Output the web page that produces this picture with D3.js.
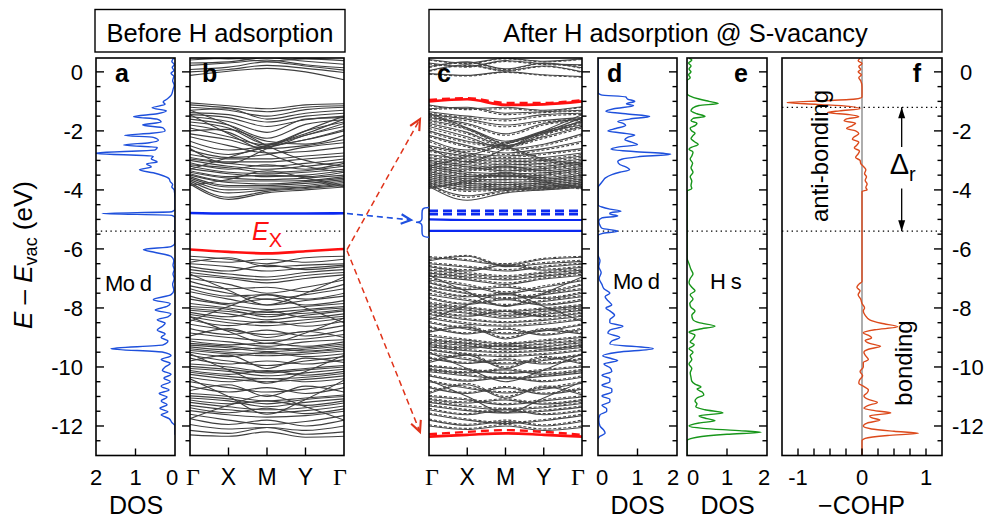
<!DOCTYPE html>
<html><head><meta charset="utf-8">
<script src="https://cdn.jsdelivr.net/npm/d3@7"></script>
<style>
body{margin:0;background:#fff}
svg{display:block}
text{font-family:"Liberation Sans",Arial,Helvetica,sans-serif;fill:#000}
</style>
</head><body>
<svg id="fig" width="992" height="519"></svg>
<script>
// ---------------- DATA ----------------
const kLabels = ["Γ","X","M","Y","Γ"];
const yMajorTicks = [0,-2,-4,-6,-8,-10,-12];
const yMinorTicks = [-0.5,-1,-1.5,-2.5,-3,-3.5,-4.5,-5,-5.5,-6.5,-7,-7.5,-8.5,-9,-9.5,-10.5,-11,-11.5,-12.5];
const dosTicks = [0,1,2];
const cohpTickLabels = [-1,0,1];
const cohpMinorTicks = [-1,-0.75,-0.5,-0.25,0,0.25,0.5,0.75,1];
const fermiLevel = -5.4;      // dotted reference line
const cohpLevel = -1.2;       // upper dotted line in f

// Panel b: bands before H adsorption (energies at Γ, X, M, Y, Γ)
const bandsB = [
 [0.50,0.44,0.52,0.46,0.50],[0.40,0.46,0.36,0.44,0.38],[0.30,0.34,0.48,0.36,0.26],
 [0.22,0.30,0.40,0.24,0.14],[0.08,0.16,0.34,0.20,0.06],[0.00,0.08,0.22,0.12,-0.02],
 [-0.12,0.02,0.12,0.0,-0.27],
 [-1.05,-1.15,-1.25,-1.12,-1.08],[-1.12,-1.22,-1.35,-1.2,-1.15],[-1.2,-1.3,-1.5,-1.28,-1.2],
 [-1.3,-1.25,-1.6,-1.4,-1.3],[-1.38,-1.45,-1.7,-1.5,-1.4],[-1.45,-1.55,-1.85,-1.62,-1.5],
 [-1.52,-1.68,-2.05,-1.6,-1.55],[-1.6,-1.8,-2.25,-1.78,-1.62],[-1.7,-1.9,-2.45,-2.0,-1.7],
 [-1.8,-2.05,-2.55,-2.15,-1.85],[-1.9,-2.2,-2.48,-2.3,-2.0],[-2.0,-1.95,-2.35,-2.45,-2.15],
 [-2.1,-2.3,-2.6,-2.5,-2.3],[-2.2,-2.5,-2.75,-2.7,-2.55],[-2.35,-2.65,-2.5,-2.15,-1.75],
 [-2.5,-2.8,-2.55,-2.3,-1.95],[-1.3,-1.8,-2.5,-3.0,-3.2],[-2.65,-2.9,-2.8,-2.55,-2.4],
 [-3.3,-2.9,-2.5,-2.1,-1.6],[-1.45,-2.1,-2.75,-3.2,-3.4],[-2.6,-3.1,-2.6,-2.0,-1.5],
 [-2.8,-2.95,-2.95,-2.85,-2.75],[-2.9,-3.05,-3.05,-2.95,-2.85],[-2.95,-3.1,-3.2,-3.1,-2.95],
 [-3.0,-3.2,-3.3,-3.2,-3.05],[-3.08,-3.3,-3.15,-3.3,-3.1],[-3.15,-3.25,-3.4,-3.35,-3.2],
 [-3.2,-3.4,-3.45,-3.4,-3.3],[-3.28,-3.45,-3.55,-3.5,-3.35],[-3.35,-3.55,-3.5,-3.55,-3.4],
 [-3.4,-3.6,-3.65,-3.6,-3.5],[-3.45,-3.7,-3.7,-3.68,-3.55],[-3.5,-3.75,-3.8,-3.72,-3.6],
 [-3.55,-3.85,-3.85,-3.78,-3.65],[-3.6,-3.9,-3.9,-3.85,-3.7],[-3.65,-4.0,-3.95,-3.9,-3.75],
 [-3.7,-4.1,-4.0,-3.92,-3.8],[-3.75,-4.25,-4.05,-3.95,-3.85],[-3.8,-4.32,-4.1,-4.0,-3.9],
 [-3.85,-3.65,-3.35,-3.6,-3.9],
 [-6.25,-6.35,-6.5,-6.3,-6.25],[-6.35,-6.45,-6.35,-6.45,-6.35],[-6.45,-6.3,-6.6,-6.55,-6.5],
 [-6.5,-6.6,-6.75,-6.65,-6.55],[-6.6,-6.75,-6.55,-6.7,-6.6],[-6.7,-6.85,-6.95,-6.8,-6.7],
 [-6.8,-6.95,-7.05,-6.9,-6.8],[-6.9,-7.0,-7.15,-7.0,-6.88],[-6.85,-7.4,-7.9,-7.5,-6.95],
 [-7.0,-7.2,-7.5,-7.3,-7.05],[-7.1,-7.35,-7.3,-7.45,-7.2],[-7.25,-7.5,-7.7,-7.55,-7.35],
 [-7.35,-7.6,-7.55,-7.7,-7.5],[-7.45,-7.7,-7.9,-7.75,-7.6],[-7.6,-7.85,-7.7,-7.9,-7.75],
 [-7.7,-7.9,-8.05,-7.95,-7.85],[-7.85,-8.0,-8.15,-8.05,-7.95],[-8.45,-7.95,-7.55,-8.0,-8.5],
 [-7.95,-8.05,-8.3,-8.1,-8.0],[-8.02,-8.12,-8.22,-8.18,-8.05],[-8.08,-8.2,-8.4,-8.25,-8.1],
 [-8.15,-8.3,-8.1,-8.32,-8.2],[-8.22,-8.4,-8.5,-8.4,-8.28],[-8.3,-8.5,-8.6,-8.5,-8.35],
 [-8.4,-8.6,-8.45,-8.62,-8.45],[-8.3,-8.8,-9.2,-8.85,-8.35],
 [-8.55,-8.75,-8.9,-8.8,-8.6],[-8.7,-8.9,-8.75,-8.95,-8.75],[-8.85,-9.0,-9.1,-9.05,-8.9],
 [-8.95,-8.7,-9.0,-8.8,-9.0],[-9.05,-9.15,-9.3,-9.15,-9.08],[-9.12,-9.25,-9.2,-9.3,-9.15],
 [-9.2,-9.3,-9.4,-9.35,-9.22],[-9.26,-9.35,-9.48,-9.4,-9.28],[-9.32,-9.42,-9.35,-9.46,-9.34],
 [-9.38,-9.5,-9.55,-9.5,-9.4],[-9.44,-9.55,-9.62,-9.56,-9.46],[-9.5,-9.65,-9.5,-9.65,-9.55],
 [-9.6,-9.8,-9.95,-9.8,-9.65],[-9.7,-9.9,-9.8,-9.9,-9.75],[-9.8,-9.6,-10.05,-9.7,-9.85],
 [-9.9,-10.0,-10.15,-10.05,-9.95],[-9.55,-10.1,-10.55,-10.15,-9.6],
 [-9.98,-10.08,-10.2,-10.1,-10.0],[-10.05,-10.15,-10.3,-10.2,-10.08],[-10.12,-10.25,-10.12,-10.28,-10.15],
 [-10.18,-10.32,-10.4,-10.35,-10.22],[-10.25,-10.4,-10.5,-10.42,-10.3],[-10.35,-10.5,-10.38,-10.5,-10.4],
 [-10.5,-10.7,-10.85,-10.75,-10.55],[-10.65,-10.85,-10.7,-10.9,-10.7],[-10.8,-10.6,-11.0,-10.65,-10.85],
 [-10.9,-11.0,-11.15,-11.05,-10.95],[-10.4,-11.0,-11.6,-11.1,-10.45],[-11.75,-11.3,-10.95,-11.35,-11.8],
 [-10.98,-11.08,-11.25,-11.1,-11.0],[-11.05,-11.15,-11.35,-11.2,-11.08],[-11.12,-11.25,-11.15,-11.3,-11.15],
 [-11.2,-11.35,-11.45,-11.38,-11.22],[-11.3,-11.45,-11.55,-11.48,-11.32],[-11.38,-11.55,-11.4,-11.58,-11.42],
 [-11.48,-11.62,-11.7,-11.65,-11.5],
 [-11.6,-11.8,-11.95,-11.85,-11.65],[-11.75,-11.95,-11.8,-12.0,-11.8],[-11.95,-12.1,-12.05,-12.15,-12.0],
 [-12.15,-12.25,-12.05,-12.28,-12.2],[-12.3,-12.35,-12.2,-12.38,-12.35]
];
const bandB_blue = [-4.78,-4.8,-4.8,-4.8,-4.79];
const bandB_red  = [-6.02,-6.1,-6.15,-6.08,-6.0];

// Panel c: bands after H adsorption (solid and dashed spin channels)
const bandsC_solid = [
 [0.42,0.3,0.46,0.36,0.44],[0.3,0.18,0.38,0.28,0.24],[0.18,0.34,0.1,0.3,0.14],[0.04,0.24,0.04,0.2,0.0],[-0.06,-0.12,0.0,-0.1,-0.16],
 [-1.12,-1.25,-1.2,-1.3,-1.18],[-1.25,-1.2,-1.4,-1.35,-1.3],[-1.35,-1.5,-1.6,-1.45,-1.4],[-1.45,-1.6,-1.8,-1.65,-1.55],
 [-1.55,-1.75,-2.1,-1.75,-1.6],[-1.65,-1.9,-2.35,-2.0,-1.7],[-1.75,-2.05,-2.5,-2.2,-1.85],[-1.85,-2.2,-2.6,-2.45,-2.1],
 [-2.0,-2.35,-2.5,-2.1,-1.65],[-2.15,-2.5,-2.75,-2.6,-2.35],[-2.3,-2.65,-2.4,-2.05,-1.8],[-1.4,-1.9,-2.5,-2.95,-3.1],
 [-3.2,-2.85,-2.45,-2.05,-1.55],[-2.55,-3.05,-2.6,-2.0,-1.45],
 [-2.5,-2.75,-2.85,-2.75,-2.6],[-2.65,-2.85,-2.95,-2.9,-2.75],[-2.8,-2.95,-3.05,-3.0,-2.85],[-2.9,-3.05,-3.15,-3.1,-2.95],
 [-3.0,-3.15,-3.25,-3.2,-3.05],[-3.08,-3.22,-3.35,-3.28,-3.12],[-3.15,-3.3,-3.2,-3.35,-3.2],[-3.22,-3.4,-3.45,-3.42,-3.28],
 [-3.3,-3.48,-3.55,-3.5,-3.35],[-3.38,-3.55,-3.5,-3.58,-3.42],[-3.45,-3.62,-3.65,-3.64,-3.5],[-3.52,-3.7,-3.75,-3.7,-3.58],
 [-3.58,-3.78,-3.82,-3.76,-3.64],[-3.64,-3.85,-3.9,-3.82,-3.7],[-3.7,-3.92,-3.95,-3.88,-3.76],[-3.76,-4.0,-3.98,-3.92,-3.82],
 [-3.82,-4.2,-4.02,-3.96,-3.88],[-3.88,-4.35,-4.1,-4.0,-3.92],[-3.95,-3.7,-3.4,-3.7,-3.95],
 [-6.3,-6.4,-6.55,-6.35,-6.28],[-6.4,-6.25,-6.6,-6.5,-6.42],[-6.5,-6.62,-6.75,-6.62,-6.52],[-6.6,-6.75,-6.55,-6.72,-6.62],
 [-6.72,-6.85,-6.95,-6.82,-6.72],[-6.82,-6.95,-7.05,-6.92,-6.8],[-6.92,-7.05,-7.2,-7.02,-6.9],[-7.05,-7.25,-7.5,-7.3,-7.08],
 [-6.9,-7.45,-7.95,-7.5,-6.95],[-8.4,-7.9,-7.5,-7.95,-8.45],
 [-7.15,-7.38,-7.3,-7.45,-7.22],[-7.3,-7.52,-7.7,-7.55,-7.38],[-7.4,-7.62,-7.55,-7.68,-7.5],[-7.55,-7.75,-7.92,-7.78,-7.62],
 [-7.68,-7.88,-7.72,-7.9,-7.75],[-7.85,-8.0,-8.12,-8.04,-7.92],[-7.95,-8.08,-8.25,-8.12,-8.0],[-8.05,-8.18,-8.35,-8.22,-8.08],
 [-8.12,-8.28,-8.12,-8.3,-8.18],[-8.22,-8.4,-8.5,-8.42,-8.28],[-8.35,-8.55,-8.62,-8.55,-8.4],[-8.5,-8.72,-8.88,-8.78,-8.58],
 [-8.65,-8.88,-8.72,-8.92,-8.72],[-8.82,-8.65,-9.05,-8.75,-8.88],[-8.95,-9.1,-9.22,-9.12,-9.0],[-9.08,-9.2,-9.32,-9.22,-9.1],
 [-9.16,-9.28,-9.42,-9.32,-9.18],[-9.24,-9.36,-9.28,-9.4,-9.26],[-9.32,-9.45,-9.52,-9.46,-9.34],[-9.42,-9.58,-9.65,-9.58,-9.45],
 [-9.55,-9.75,-9.9,-9.78,-9.6],[-9.7,-9.88,-9.76,-9.9,-9.74],[-9.85,-9.6,-10.05,-9.68,-9.9],[-9.98,-10.1,-10.22,-10.12,-10.0],
 [-9.5,-10.05,-10.5,-10.1,-9.55],[-10.45,-11.0,-11.55,-11.05,-10.5],
 [-10.08,-10.2,-10.1,-10.25,-10.12],[-10.16,-10.3,-10.4,-10.32,-10.2],[-10.3,-10.48,-10.36,-10.5,-10.35],[-10.5,-10.72,-10.88,-10.75,-10.55],
 [-10.7,-10.9,-10.7,-10.92,-10.75],[-10.9,-10.6,-11.05,-10.68,-10.95],[-11.0,-11.12,-11.28,-11.15,-11.02],[-11.1,-11.22,-11.12,-11.26,-11.14],
 [-11.2,-11.35,-11.45,-11.38,-11.24],[-11.32,-11.48,-11.56,-11.5,-11.36],[-11.45,-11.62,-11.45,-11.62,-11.5],[-11.6,-11.8,-11.92,-11.82,-11.65],
 [-11.8,-11.98,-11.85,-12.0,-11.85],[-12.0,-12.12,-12.0,-12.15,-12.05]
];
const bandsC_dashed = [
 [0.4,0.28,0.44,0.34,0.42],[0.27,0.16,0.35,0.25,0.22],[0.15,0.31,0.08,0.28,0.12],[0.02,0.22,0.02,0.18,-0.02],[-0.08,-0.14,-0.02,-0.12,-0.18],
 [-1.15,-1.28,-1.25,-1.33,-1.2],[-1.28,-1.24,-1.45,-1.38,-1.33],[-1.4,-1.55,-1.66,-1.5,-1.44],[-1.5,-1.66,-1.86,-1.7,-1.58],
 [-1.6,-1.8,-2.15,-1.8,-1.64],[-1.7,-1.95,-2.4,-2.05,-1.75],[-1.8,-2.1,-2.55,-2.25,-1.9],[-1.92,-2.26,-2.65,-2.5,-2.15],
 [-2.05,-2.4,-2.55,-2.15,-1.7],[-2.2,-2.55,-2.8,-2.65,-2.4],[-2.36,-2.7,-2.45,-2.1,-1.85],[-1.45,-1.95,-2.55,-3.0,-3.15],
 [-2.55,-2.8,-2.9,-2.8,-2.65],[-2.7,-2.9,-3.0,-2.95,-2.8],[-2.84,-3.0,-3.1,-3.04,-2.9],[-2.94,-3.1,-3.2,-3.14,-3.0],
 [-3.04,-3.2,-3.3,-3.24,-3.1],[-3.12,-3.27,-3.4,-3.32,-3.16],[-3.19,-3.35,-3.25,-3.4,-3.24],[-3.26,-3.45,-3.5,-3.46,-3.32],
 [-3.34,-3.52,-3.6,-3.54,-3.39],[-3.42,-3.6,-3.55,-3.62,-3.46],[-3.49,-3.66,-3.7,-3.68,-3.54],[-3.56,-3.74,-3.8,-3.74,-3.62],
 [-3.62,-3.82,-3.86,-3.8,-3.68],[-3.68,-3.89,-3.93,-3.86,-3.74],[-3.74,-3.96,-3.98,-3.92,-3.8],[-3.8,-4.05,-4.0,-3.95,-3.85],
 [-3.86,-4.25,-4.06,-3.99,-3.9],[-3.9,-3.75,-3.45,-3.75,-3.98],
 [-6.26,-6.36,-6.5,-6.32,-6.25],[-6.36,-6.22,-6.56,-6.46,-6.38],[-6.46,-6.58,-6.7,-6.58,-6.48],[-6.56,-6.7,-6.5,-6.68,-6.58],
 [-6.68,-6.8,-6.9,-6.78,-6.68],[-6.78,-6.9,-7.0,-6.88,-6.76],[-6.88,-7.0,-7.15,-6.98,-6.86],[-7.0,-7.2,-7.45,-7.25,-7.04],
 [-7.1,-7.33,-7.25,-7.4,-7.18],[-7.26,-7.48,-7.65,-7.5,-7.34],[-7.36,-7.58,-7.5,-7.64,-7.46],[-7.5,-7.7,-7.88,-7.74,-7.58],
 [-7.64,-7.84,-7.68,-7.86,-7.7],[-7.8,-7.96,-8.08,-8.0,-7.88],[-7.9,-8.04,-8.2,-8.08,-7.96],[-8.0,-8.14,-8.3,-8.18,-8.04],
 [-8.08,-8.24,-8.08,-8.26,-8.14],[-8.18,-8.36,-8.46,-8.38,-8.24],[-8.3,-8.5,-8.58,-8.5,-8.36],[-8.46,-8.68,-8.84,-8.74,-8.54],
 [-8.6,-8.84,-8.68,-8.88,-8.68],[-8.78,-8.6,-9.0,-8.7,-8.84],[-8.9,-9.06,-9.18,-9.08,-8.96],[-9.04,-9.16,-9.28,-9.18,-9.06],
 [-9.12,-9.24,-9.38,-9.28,-9.14],[-9.2,-9.32,-9.24,-9.36,-9.22],[-9.28,-9.41,-9.48,-9.42,-9.3],[-9.38,-9.54,-9.6,-9.54,-9.41],
 [-9.5,-9.7,-9.86,-9.74,-9.56],[-9.66,-9.84,-9.72,-9.86,-9.7],[-9.8,-9.56,-10.0,-9.64,-9.86],[-9.94,-10.06,-10.18,-10.08,-9.96],
 [-10.04,-10.16,-10.06,-10.2,-10.08],[-10.12,-10.26,-10.36,-10.28,-10.16],[-10.26,-10.44,-10.32,-10.46,-10.3],[-10.46,-10.68,-10.84,-10.7,-10.5],
 [-10.66,-10.86,-10.66,-10.88,-10.7],[-10.86,-10.56,-11.0,-10.64,-10.9],[-10.96,-11.08,-11.24,-11.1,-10.98],[-11.06,-11.18,-11.08,-11.22,-11.1],
 [-11.16,-11.3,-11.4,-11.34,-11.2],[-11.28,-11.44,-11.52,-11.46,-11.32],[-11.4,-11.58,-11.4,-11.58,-11.46],[-11.56,-11.76,-11.88,-11.78,-11.6],
 [-11.76,-11.94,-11.8,-11.96,-11.8],[-11.96,-12.08,-11.95,-12.1,-12.0]
];
const bandC_redTop_solid  = [-1.0,-0.93,-1.12,-1.1,-1.0];
const bandC_redTop_dashed = [-0.95,-0.89,-1.05,-1.05,-0.96];
const bandC_redBot_solid  = [-12.36,-12.3,-12.25,-12.3,-12.36];
const bandC_redBot_dashed = [-12.28,-12.2,-12.14,-12.2,-12.3];
const bandsC_blue_dashed  = [[-4.71,-4.71,-4.71,-4.71,-4.71],[-4.82,-4.82,-4.82,-4.82,-4.82]];
const bandsC_blue_solid   = [[-5.0,-5.02,-5.02,-5.02,-5.02],[-5.39,-5.39,-5.39,-5.39,-5.39]];

// Panel a: Mo d DOS before adsorption  [E, DOS]
const dosA = [[0.47,0.03],[0.35,0.08],[0.25,0.02],[0.15,0.07],[0.05,0.03],[-0.05,0.1],[-0.15,0.03],[-0.3,0.06],[-0.45,0.02],[-0.6,0.05],[-0.8,0.1],[-0.92,0.2],[-1.02,0.3],[-1.1,0.25],[-1.22,0.58],[-1.32,0.22],[-1.42,0.45],[-1.52,1.05],[-1.6,0.45],[-1.7,0.35],[-1.8,0.82],[-1.9,0.3],[-2.0,0.25],[-2.08,0.6],[-2.15,1.28],[-2.22,0.55],[-2.32,0.42],[-2.4,0.65],[-2.48,1.3],[-2.56,0.45],[-2.64,0.5],[-2.76,2.05],[-2.86,0.55],[-2.95,0.6],[-3.05,0.45],[-3.12,0.72],[-3.22,0.6],[-3.32,0.9],[-3.42,0.55],[-3.52,0.3],[-3.62,0.15],[-3.72,0.12],[-3.82,0.06],[-3.9,0.08],[-4.0,0.02],[-4.3,0.0],[-4.65,0.0],[-4.74,0.08],[-4.8,1.85],[-4.86,0.08],[-4.95,0.0],[-5.8,0.0],[-5.92,0.1],[-6.02,0.8],[-6.12,0.5],[-6.25,0.1],[-6.4,0.03],[-6.55,0.05],[-6.7,0.02],[-6.85,0.05],[-7.0,0.02],[-7.2,0.06],[-7.4,0.03],[-7.55,0.1],[-7.72,0.55],[-7.85,0.12],[-7.95,0.2],[-8.07,0.5],[-8.2,0.1],[-8.3,0.18],[-8.4,0.45],[-8.52,0.25],[-8.62,0.32],[-8.75,0.45],[-8.88,0.25],[-9.0,0.35],[-9.12,0.18],[-9.25,0.3],[-9.38,1.62],[-9.5,0.3],[-9.62,0.1],[-9.75,0.35],[-9.88,0.12],[-10.0,0.25],[-10.12,0.32],[-10.25,0.1],[-10.38,0.28],[-10.5,0.12],[-10.65,0.35],[-10.78,0.15],[-10.9,0.4],[-11.02,0.2],[-11.15,0.35],[-11.28,0.2],[-11.4,0.38],[-11.52,0.18],[-11.62,0.35],[-11.75,0.15],[-11.88,0.08],[-12.0,0.0],[-12.3,0.0]];

// Panel d: Mo d DOS after adsorption
const dosD = [[0.47,0.0],[-0.7,0.0],[-0.78,0.08],[-0.85,0.7],[-0.92,0.75],[-1.0,0.93],[-1.08,0.72],[-1.15,0.9],[-1.25,0.4],[-1.34,0.2],[-1.42,0.7],[-1.51,1.31],[-1.6,0.8],[-1.68,0.5],[-1.75,0.65],[-1.82,0.7],[-1.92,0.45],[-2.0,0.25],[-2.07,0.6],[-2.14,0.93],[-2.22,0.75],[-2.3,0.68],[-2.38,0.85],[-2.47,1.0],[-2.55,0.5],[-2.62,0.33],[-2.7,0.9],[-2.79,1.84],[-2.88,1.0],[-2.96,0.6],[-3.04,0.5],[-3.14,0.55],[-3.22,0.7],[-3.32,0.8],[-3.4,0.55],[-3.48,0.35],[-3.6,0.18],[-3.7,0.12],[-3.8,0.06],[-3.92,0.0],[-4.5,0.0],[-4.58,0.1],[-4.65,0.3],[-4.72,0.58],[-4.78,0.3],[-4.82,0.3],[-4.88,0.5],[-4.95,0.1],[-5.05,0.02],[-5.2,0.05],[-5.3,0.1],[-5.4,0.5],[-5.48,0.1],[-5.55,0.0],[-6.2,0.0],[-6.4,0.05],[-6.6,0.02],[-6.8,0.08],[-7.0,0.03],[-7.2,0.1],[-7.35,0.15],[-7.5,0.3],[-7.62,0.18],[-7.75,0.25],[-7.9,0.35],[-8.0,0.2],[-8.1,0.3],[-8.25,0.42],[-8.4,0.3],[-8.5,0.3],[-8.62,0.63],[-8.75,0.3],[-8.85,0.25],[-9.0,0.55],[-9.12,0.35],[-9.22,0.3],[-9.38,1.4],[-9.5,0.5],[-9.62,0.12],[-9.72,0.35],[-9.78,0.5],[-9.9,0.15],[-10.02,0.3],[-10.15,0.35],[-10.28,0.1],[-10.4,0.3],[-10.5,0.3],[-10.62,0.1],[-10.75,0.35],[-10.85,0.35],[-10.98,0.1],[-11.1,0.3],[-11.18,0.3],[-11.3,0.1],[-11.42,0.22],[-11.5,0.22],[-11.62,0.05],[-11.8,0.02],[-12.0,0.05],[-12.15,0.15],[-12.25,0.18],[-12.35,0.05],[-12.45,0.0]];

// Panel e: H s DOS
const dosE = [[0.47,0.05],[0.4,0.12],[0.3,0.04],[0.2,0.1],[0.1,0.05],[0.0,0.1],[-0.1,0.04],[-0.2,0.08],[-0.3,0.0],[-0.75,0.0],[-0.82,0.08],[-0.92,0.3],[-1.0,0.55],[-1.07,0.78],[-1.14,0.3],[-1.22,0.15],[-1.32,0.1],[-1.42,0.25],[-1.51,0.45],[-1.58,0.15],[-1.66,0.1],[-1.74,0.25],[-1.82,0.2],[-1.9,0.08],[-2.0,0.12],[-2.08,0.2],[-2.16,0.15],[-2.26,0.1],[-2.36,0.18],[-2.46,0.28],[-2.55,0.12],[-2.62,0.05],[-2.72,0.15],[-2.85,0.12],[-2.95,0.08],[-3.1,0.14],[-3.25,0.1],[-3.4,0.15],[-3.55,0.08],[-3.7,0.12],[-3.85,0.1],[-3.95,0.12],[-4.05,0.0],[-6.3,0.0],[-6.5,0.05],[-6.7,0.1],[-6.85,0.15],[-7.0,0.08],[-7.15,0.05],[-7.3,0.12],[-7.42,0.2],[-7.55,0.08],[-7.7,0.15],[-7.85,0.07],[-7.98,0.1],[-8.1,0.2],[-8.25,0.12],[-8.4,0.15],[-8.5,0.3],[-8.62,0.7],[-8.72,0.3],[-8.82,0.05],[-8.92,0.2],[-9.05,0.15],[-9.15,0.08],[-9.25,0.18],[-9.38,0.05],[-9.5,0.15],[-9.62,0.08],[-9.75,0.12],[-9.9,0.05],[-10.05,0.12],[-10.2,0.08],[-10.35,0.1],[-10.48,0.12],[-10.58,0.2],[-10.68,0.35],[-10.75,0.25],[-10.85,0.38],[-10.95,0.42],[-11.05,0.25],[-11.15,0.2],[-11.25,0.25],[-11.35,0.22],[-11.45,0.45],[-11.56,0.9],[-11.65,0.3],[-11.75,0.5],[-11.82,0.7],[-11.9,0.3],[-12.0,0.05],[-12.08,0.4],[-12.15,1.2],[-12.21,1.85],[-12.28,1.0],[-12.38,0.25],[-12.5,0.0],[-13.0,0.0]];

// Panel f: -COHP
const cohpF = [[0.47,-0.02],[0.38,-0.06],[0.28,0.0],[0.18,-0.05],[0.08,-0.02],[0.0,-0.06],[-0.1,-0.01],[-0.2,-0.05],[-0.3,-0.02],[-0.5,0.0],[-0.85,0.0],[-0.92,-0.1],[-0.98,-0.6],[-1.04,-1.17],[-1.1,-0.7],[-1.17,-0.2],[-1.25,-0.03],[-1.32,-0.35],[-1.38,-0.54],[-1.45,-0.2],[-1.52,-0.05],[-1.6,-0.25],[-1.66,-0.28],[-1.74,-0.1],[-1.82,-0.15],[-1.92,-0.24],[-2.0,-0.1],[-2.1,-0.05],[-2.2,-0.12],[-2.28,-0.15],[-2.38,-0.05],[-2.48,-0.08],[-2.58,-0.12],[-2.68,-0.04],[-2.78,-0.06],[-2.9,-0.1],[-3.0,-0.03],[-3.1,-0.02],[-3.2,0.02],[-3.32,0.06],[-3.45,0.04],[-3.55,0.07],[-3.68,0.05],[-3.8,0.08],[-3.92,0.06],[-4.0,0.08],[-4.05,0.0],[-7.1,0.0],[-7.2,-0.05],[-7.3,-0.08],[-7.42,-0.03],[-7.55,-0.06],[-7.7,-0.02],[-7.85,0.0],[-8.0,0.04],[-8.1,0.02],[-8.25,0.05],[-8.4,0.12],[-8.52,0.3],[-8.64,0.56],[-8.74,0.2],[-8.84,0.02],[-8.95,0.12],[-9.02,0.15],[-9.1,0.05],[-9.2,0.12],[-9.3,0.29],[-9.4,0.1],[-9.5,0.03],[-9.6,0.05],[-9.75,0.1],[-9.85,0.02],[-10.0,0.02],[-10.15,-0.03],[-10.3,0.01],[-10.45,-0.04],[-10.55,-0.05],[-10.65,0.02],[-10.78,0.1],[-10.88,0.08],[-10.98,0.03],[-11.1,0.1],[-11.2,0.24],[-11.3,0.1],[-11.4,0.03],[-11.48,0.2],[-11.56,0.45],[-11.65,0.12],[-11.72,0.15],[-11.8,0.28],[-11.9,0.08],[-12.0,0.02],[-12.1,0.15],[-12.18,0.5],[-12.25,0.88],[-12.32,0.4],[-12.42,0.05],[-12.5,0.0],[-13.0,0.0]];

// ---------------- LAYOUT ----------------
const C = {gray:"#3f3f3f", grayC:"#454545", blue:"#0a28f0", red:"#ff1010", dosBlue:"#1e50dc", green:"#17961a", orange:"#dc4a1c", arrowRed:"#e0331a", arrowBlue:"#1f50e0"};
const Y0 = 58, Y1 = 455.5;
const P = {a:[96,175], b:[190,344], c:[429,582], d:[598,677], e:[687,767], f:[782,942]};
const svg = d3.select("#fig");
const y = d3.scaleLinear().domain([0.47,-13]).range([Y0,Y1]);
const xa = d3.scaleLinear().domain([2,0]).range(P.a);
const xd = d3.scaleLinear().domain([0,2]).range(P.d);
const xe = d3.scaleLinear().domain([0,2]).range(P.e);
const xf = d3.scaleLinear().domain([-1.25,1.25]).range(P.f);
const kb = d3.scalePoint().domain(d3.range(5)).range(P.b);
const kc = d3.scalePoint().domain(d3.range(5)).range(P.c);

const defs = svg.append("defs");
Object.entries(P).forEach(([k,[x0,x1]]) => {
  defs.append("clipPath").attr("id","clip-"+k).append("rect")
    .attr("x",x0).attr("y",Y0).attr("width",x1-x0).attr("height",Y1-Y0);
});

// titles
function titleBox(x0,x1,label){
  svg.append("rect").attr("x",x0).attr("y",9.5).attr("width",x1-x0).attr("height",42.5)
    .attr("fill","none").attr("stroke","#000").attr("stroke-width",1.4);
  svg.append("text").attr("x",(x0+x1)/2).attr("y",42).attr("text-anchor","middle")
    .attr("font-size",25.5).text(label);
}
titleBox(95,345,"Before H adsorption");
titleBox(429,942,"After H adsorption @ S-vacancy");

// dotted reference lines
function dotted(panel, e){
  svg.append("line").attr("x1",P[panel][0]).attr("x2",P[panel][1]).attr("y1",y(e)).attr("y2",y(e))
    .attr("stroke","#000").attr("stroke-width",1.3).attr("stroke-dasharray","1.4,3.4");
}
["a","d","e","f"].forEach(p=>dotted(p,fermiLevel));
dotted("f",cohpLevel);

// bands
const bandLine = k => d3.line().x((d,i)=>k(i)).y(d=>y(d)).curve(d3.curveMonotoneX);
function bands(panel,k,data,stroke,w,dash){
  svg.append("g").attr("clip-path",`url(#clip-${panel})`)
    .selectAll("path").data(data).join("path")
    .attr("d",bandLine(k)).attr("fill","none").attr("stroke",stroke)
    .attr("stroke-width",w).attr("stroke-dasharray",dash||null);
}
bands("b",kb,bandsB,C.gray,1.1);
dotted("b",fermiLevel);
const ex = svg.append("g");
ex.append("rect").attr("x",249).attr("y",y(-5.0)).attr("width",37).attr("height",y(-5.85)-y(-5.0)).attr("fill","#fff");
const exT = ex.append("text").attr("x",252).attr("y",240).attr("font-size",25).style("fill",C.red);
exT.append("tspan").attr("font-style","italic").text("E");
exT.append("tspan").attr("font-size",20).attr("dy",7).text("X");
bands("b",kb,[bandB_blue],C.blue,2.6);
bands("b",kb,[bandB_red],C.red,2.6);

bands("c",kc,bandsC_solid,C.grayC,1.1);
bands("c",kc,bandsC_dashed,C.grayC,1.1,"3,2");
bands("c",kc,bandsC_blue_solid,C.blue,2.2);
bands("c",kc,bandsC_blue_dashed,C.blue,2.6,"9,5");
bands("c",kc,[bandC_redTop_solid,bandC_redBot_solid],C.red,2.6);
bands("c",kc,[bandC_redTop_dashed,bandC_redBot_dashed],C.red,2.4,"8,5");

// DOS curves
function dos(panel,xs,data,color){
  svg.append("g").attr("clip-path",`url(#clip-${panel})`).append("path").datum(data)
    .attr("d",d3.line().x(d=>xs(d[1])).y(d=>y(d[0])).curve(d3.curveMonotoneY))
    .attr("fill","none").attr("stroke",color).attr("stroke-width",1.4);
}
dos("a",xa,dosA,C.dosBlue);
dos("d",xd,dosD,C.dosBlue);
dos("e",xe,dosE,C.green);
svg.append("line").attr("x1",xf(0)).attr("x2",xf(0)).attr("y1",Y0).attr("y2",Y1).attr("stroke","#777").attr("stroke-width",1.2);
dos("f",xf,cohpF,C.orange);

// frames
Object.values(P).forEach(([x0,x1])=>{
  svg.append("rect").attr("x",x0).attr("y",Y0).attr("width",x1-x0).attr("height",Y1-Y0)
    .attr("fill","none").attr("stroke","#000").attr("stroke-width",1.6);
});

// y ticks
function yTicks(x,dir){
  const g = svg.append("g").attr("stroke","#000").attr("stroke-width",1.4);
  g.selectAll(".mj").data(yMajorTicks).join("line").attr("x1",x).attr("x2",x+dir*8).attr("y1",d=>y(d)).attr("y2",d=>y(d));
  g.selectAll(".mn").data(yMinorTicks).join("line").attr("x1",x).attr("x2",x+dir*4.5).attr("y1",d=>y(d)).attr("y2",d=>y(d));
}
yTicks(P.a[0],1); yTicks(P.b[0],-1); yTicks(P.c[1],1); yTicks(P.d[1],-1); yTicks(P.e[1],-1); yTicks(P.f[1],-1);

// y labels left & right
svg.append("g").selectAll("text").data(yMajorTicks).join("text")
  .attr("x",83).attr("y",d=>y(d)+8.5).attr("text-anchor","end").attr("font-size",22).text(d=>String(d));
svg.append("g").selectAll("text").data(yMajorTicks).join("text")
  .attr("x",d=>d===0?960:952).attr("y",d=>y(d)+8.5).attr("font-size",22).text(d=>String(d));

// bottom ticks
function xTicks(vals,xs,len){
  svg.append("g").selectAll("line").data(vals).join("line")
    .attr("x1",d=>xs(d)).attr("x2",d=>xs(d)).attr("y1",Y1).attr("y2",Y1-len)
    .attr("stroke","#000").attr("stroke-width",1.4);
}
xTicks([1],xa,7); xTicks([1],xd,7); xTicks([1],xe,7);
xTicks([1,2,3],kb,8); xTicks([1,2,3],kc,8);
xTicks(cohpMinorTicks,xf,7);

// bottom labels
const tickBase = 485;
function xLabels(vals,xs,shift){
  svg.append("g").selectAll("text").data(vals).join("text")
    .attr("x",(d,i)=>xs(d)+(shift?shift[i]:0)).attr("y",tickBase).attr("text-anchor","middle")
    .attr("font-size",22).text(d=>String(d));
}
xLabels([2,1,0],xa,[0,0,-3]);
xLabels(dosTicks,xd,[4,0,-4]);
xLabels(dosTicks,xe,[6,0,-3]);
xLabels(cohpTickLabels,xf);
function kLabelsAt(k){
  svg.append("g").selectAll("text").data(kLabels).join("text")
    .attr("x",(d,i)=>k(i)+(i===0?3:i===4?-4:0)).attr("y",tickBase).attr("text-anchor","middle")
    .attr("font-size",d=>d==="Γ"?24:23)
    .style("font-family",d=>d==="Γ"?"'Liberation Serif','Times New Roman',serif":null)
    .text(d=>d);
}
kLabelsAt(kb); kLabelsAt(kc);

// axis titles
[[136,"DOS"],[637.5,"DOS"],[727.5,"DOS"],[861.5,"−COHP"]].forEach(([x,t])=>{
  svg.append("text").attr("x",x).attr("y",514).attr("text-anchor","middle").attr("font-size",25).text(t);
});
const yl = svg.append("text").attr("transform","translate(32,255) rotate(-90)").attr("text-anchor","middle").attr("font-size",26);
yl.append("tspan").attr("font-style","italic").text("E");
yl.append("tspan").text(" – ");
yl.append("tspan").attr("font-style","italic").text("E");
yl.append("tspan").attr("font-size",18).attr("dy",5).text("vac");
yl.append("tspan").attr("dy",-5).text(" (eV)");

// panel letters
[[115,"a","start"],[202,"b","start"],[437,"c","start"],[607,"d","start"],[748,"e","end"],[921,"f","end"]].forEach(([x,t,a])=>{
  svg.append("text").attr("x",x).attr("y",82).attr("text-anchor",a).attr("font-size",25).attr("font-weight","bold").text(t);
});
// orbital labels
[[105,291,"Mo d"],[613,289,"Mo d"],[710,289,"H s"]].forEach(([x,yy,t])=>{
  svg.append("text").attr("x",x).attr("y",yy).attr("font-size",22).attr("letter-spacing",-0.6).text(t);
});
svg.append("text").attr("transform","translate(828,156) rotate(-90)").attr("text-anchor","middle").attr("font-size",24).text("anti-bonding");
svg.append("text").attr("transform","translate(912,363) rotate(-90)").attr("text-anchor","middle").attr("font-size",24).text("bonding");

// Δr arrows
const ax = xf(0.62);
function solidArrow(x,yFrom,yTo){
  svg.append("line").attr("x1",x).attr("x2",x).attr("y1",yFrom).attr("y2",yTo).attr("stroke","#000").attr("stroke-width",1.3);
  const s = Math.sign(yTo-yFrom);
  svg.append("path").attr("d",`M${x},${yTo} L${x-3.5},${yTo-s*11} L${x+3.5},${yTo-s*11} Z`).attr("fill","#000");
}
solidArrow(ax,y(-2.55),y(cohpLevel));
solidArrow(ax,y(-3.95),y(fermiLevel));
const dl = svg.append("text").attr("x",ax-12).attr("y",y(-3.45)).attr("font-size",29);
dl.append("tspan").text("Δ");
dl.append("tspan").attr("font-size",20).attr("dy",7).text("r");

// connecting arrows between b and c
function dashedArrow(x1,y1,x2,y2,color,w,head){
  svg.append("line").attr("x1",x1).attr("y1",y1).attr("x2",x2).attr("y2",y2)
    .attr("stroke",color).attr("stroke-width",w).attr("stroke-dasharray","6,4");
  const ang = Math.atan2(y2-y1,x2-x1), L = head, sp = 0.45;
  const p1 = [x2-L*Math.cos(ang-sp), y2-L*Math.sin(ang-sp)];
  const p2 = [x2-L*Math.cos(ang+sp), y2-L*Math.sin(ang+sp)];
  svg.append("path").attr("d",`M${p1[0]},${p1[1]} L${x2},${y2} L${p2[0]},${p2[1]}`)
    .attr("fill","none").attr("stroke",color).attr("stroke-width",w+0.6);
}
dashedArrow(P.b[1]+3,y(-6.02),P.c[0]-9,y(-1.6),C.arrowRed,1.5,12);
dashedArrow(P.b[1]+3,y(-6.05),P.c[0]-9,y(-12.2),C.arrowRed,1.5,12);
dashedArrow(P.b[1]+3,y(-4.8),P.c[0]-18,y(-5.02),C.arrowBlue,1.6,11);
// brace
const bx = P.c[0]-7, bt = y(-4.6), bb = y(-5.6), bm = y(-5.1);
svg.append("path").attr("d",
  `M${P.c[0]},${bt} C${bx},${bt} ${bx},${bt+2} ${bx},${bt+6} L${bx},${bm-4} C${bx},${bm-1} ${bx-2},${bm} ${bx-6},${bm} C${bx-2},${bm} ${bx},${bm+1} ${bx},${bm+4} L${bx},${bb-6} C${bx},${bb-2} ${bx},${bb} ${P.c[0]},${bb}`)
  .attr("fill","none").attr("stroke",C.arrowBlue).attr("stroke-width",1.5);
</script>
</body></html>
